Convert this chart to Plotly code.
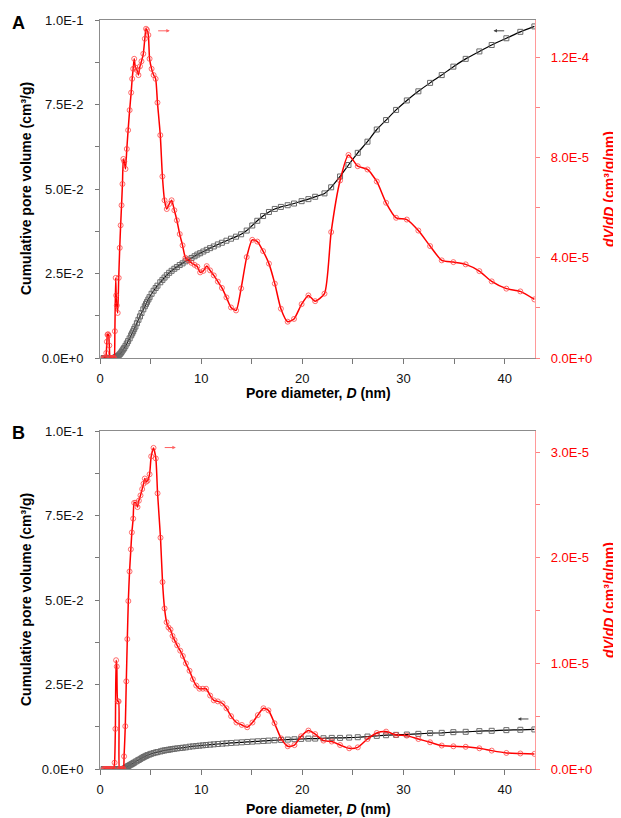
import plotly.graph_objects as go

# ---------------- Panel A data ----------------
diam_A = [0.35, 0.45, 0.55, 0.62, 0.68, 0.74, 0.8, 0.86, 0.92, 1.0, 1.08, 1.16, 1.24, 1.32, 1.4,
          1.47, 1.55, 1.6, 1.66, 1.75, 1.85, 1.95, 2.04, 2.13, 2.22, 2.31, 2.4, 2.52, 2.65, 2.78,
          2.93, 3.08, 3.18, 3.28, 3.38, 3.5, 3.65, 3.8, 3.95, 4.1, 4.28, 4.43, 4.55, 4.65, 4.78,
          4.9, 5.1, 5.3, 5.5, 5.68, 5.96, 6.17, 6.38, 6.6, 6.84, 7.08, 7.35, 7.6, 7.88, 8.16,
          8.45, 8.75, 9.05, 9.35, 9.62, 9.9, 10.22, 10.55, 10.88, 11.25, 11.65, 12.05, 12.5, 12.95,
          13.45, 13.95, 14.5, 15.05, 15.55, 16.12, 16.7, 17.28, 17.88, 18.55, 19.18, 19.93, 20.6,
          21.27, 22.19, 22.85, 23.73, 24.56, 25.48, 26.44, 27.36, 28.28, 29.27, 30.33, 31.47,
          32.63, 33.78, 34.93, 36.15, 37.5, 38.72, 40.17, 41.55, 42.94]
dvdd_A = [0, 0, 0, 2.0e-6, 6.5e-6, 9.3e-6, 9.5e-6, 9.0e-6, 5.0e-6, 0, 0, 0, 0, 0, 0,
          1.07e-5, 3.2e-5, 2.5e-5, 2.1e-5, 1.8e-5, 3.2e-5, 4.4e-5, 5.3e-5, 6.1e-5, 6.95e-5, 7.95e-5,
          7.85e-5, 7.55e-5, 8.35e-5, 9.1e-5, 9.9e-5, 1.06e-4, 1.115e-4, 1.155e-4, 1.195e-4, 1.16e-4,
          1.15e-4, 1.13e-4, 1.165e-4, 1.185e-4, 1.215e-4, 1.275e-4, 1.315e-4, 1.31e-4, 1.29e-4,
          1.195e-4, 1.155e-4, 1.13e-4, 1.115e-4, 1.02e-4, 8.9e-5, 7.25e-5, 6.3e-5, 5.95e-5, 6.15e-5,
          6.3e-5, 5.9e-5, 5.5e-5, 4.95e-5, 4.5e-5, 4.0e-5, 3.9e-5, 3.8e-5, 3.72e-5, 3.65e-5, 3.42e-5,
          3.48e-5, 3.67e-5, 3.5e-5, 3.3e-5, 3.05e-5, 2.8e-5, 2.42e-5, 2.02e-5, 1.9e-5, 2.78e-5,
          4.03e-5, 4.72e-5, 4.65e-5, 4.27e-5, 3.77e-5, 2.97e-5, 1.97e-5, 1.45e-5, 1.56e-5, 2.15e-5,
          2.5e-5, 2.27e-5, 2.57e-5, 5.03e-5, 7.09e-5, 8.11e-5, 7.66e-5, 7.53e-5, 7.05e-5, 6.2e-5,
          5.6e-5, 5.53e-5, 5.09e-5, 4.47e-5, 3.9e-5, 3.83e-5, 3.74e-5, 3.47e-5, 3.06e-5, 2.77e-5,
          2.66e-5, 2.34e-5]
cum_A = [0, 0, 0, 0, 0, 0, 0, 0, 0, 0, 0, 0, 0, 0, 0,
         0.0001, 0.0002, 0.0003, 0.0004, 0.0006, 0.0008, 0.0011, 0.0014, 0.0018, 0.0022, 0.0026,
         0.0030, 0.0036, 0.0043, 0.0050, 0.0058, 0.0067, 0.0073, 0.0079, 0.0086, 0.0093, 0.0103,
         0.0113, 0.0123, 0.0133, 0.0144, 0.0153, 0.0160, 0.0166, 0.0173, 0.0180, 0.0190, 0.0199,
         0.0207, 0.0214, 0.0224, 0.0231, 0.0238, 0.0245, 0.0252, 0.0258, 0.0264, 0.0269, 0.0275,
         0.0280, 0.0286, 0.0291, 0.0296, 0.0301, 0.0306, 0.0310, 0.0315, 0.0320, 0.0325, 0.0330,
         0.0336, 0.0341, 0.0347, 0.0353, 0.0359, 0.0366, 0.0377, 0.0392, 0.0406, 0.0420, 0.0432,
         0.0441, 0.0447, 0.0452, 0.0457, 0.0464, 0.0470, 0.0477, 0.0487, 0.0505, 0.0537, 0.0571,
         0.0607, 0.0640, 0.0676, 0.0704, 0.0734, 0.0762, 0.0789, 0.0814, 0.0837, 0.0862, 0.0885,
         0.0907, 0.0926, 0.0946, 0.0965, 0.0981]

# ---------------- Panel B data ----------------
diam_B = [0.35, 0.45, 0.55, 0.65, 0.75, 0.85, 0.95, 1.05, 1.15, 1.25, 1.35, 1.44, 1.52, 1.59,
          1.66, 1.76, 1.84, 1.92, 2.0, 2.08, 2.16, 2.24, 2.32, 2.38, 2.5, 2.6, 2.7, 2.8, 2.92,
          3.05, 3.15, 3.28, 3.38, 3.54, 3.71, 3.84, 4.0, 4.17, 4.3, 4.43, 4.57, 4.7, 4.9, 5.06,
          5.29, 5.52, 5.69, 5.98, 6.18, 6.38, 6.58, 6.77, 6.97, 7.17, 7.37, 7.63, 7.93, 8.19,
          8.49, 8.85, 9.18, 9.51, 9.83, 10.17, 10.49, 10.89, 11.25, 11.65, 12.11, 12.5, 12.96,
          13.49, 14.02, 14.55, 15.07, 15.6, 16.16, 16.65, 17.25, 17.9, 18.56, 19.22, 19.88, 20.6,
          21.27, 22.09, 22.91, 23.73, 24.63, 25.48, 26.44, 27.36, 28.28, 29.27, 30.33, 31.47,
          32.63, 33.78, 34.93, 36.15, 37.5, 38.72, 40.17, 41.55, 42.94]
dvdd_B = [0, 0, 0, 0, 0, 0, 0, 0, 0, 0, 0, 6e-7, 3.8e-6, 1.03e-5,
          9.7e-6, 6.4e-6, 6.4e-6, 0, 0, 0, 0, 0, 0, 1.2e-6, 4.05e-6, 8.3e-6, 1.23e-5, 1.59e-5,
          1.87e-5, 2.08e-5, 2.24e-5, 2.37e-5, 2.52e-5, 2.52e-5, 2.48e-5, 2.54e-5, 2.59e-5, 2.65e-5,
          2.7e-5, 2.75e-5, 2.72e-5, 2.73e-5, 2.79e-5, 2.96e-5, 3.04e-5, 2.94e-5, 2.61e-5, 2.19e-5,
          1.77e-5, 1.52e-5, 1.39e-5, 1.34e-5, 1.32e-5, 1.26e-5, 1.22e-5, 1.17e-5, 1.12e-5, 1.07e-5,
          1.0e-5, 9.3e-6, 8.5e-6, 7.9e-6, 7.6e-6, 7.6e-6, 7.6e-6, 6.95e-6, 6.5e-6, 6.4e-6, 6.2e-6,
          5.75e-6, 5.0e-6, 4.4e-6, 4.17e-6, 3.95e-6, 4.4e-6, 5.1e-6, 5.75e-6, 5.55e-6, 4.33e-6,
          2.9e-6, 2.15e-6, 2.26e-6, 3.1e-6, 3.64e-6, 3.3e-6, 2.69e-6, 2.6e-6, 2.27e-6, 1.96e-6,
          2.05e-6, 2.84e-6, 3.41e-6, 3.54e-6, 3.22e-6, 3.16e-6, 2.84e-6, 2.53e-6, 2.22e-6, 2.15e-6,
          2.1e-6, 1.96e-6, 1.74e-6, 1.52e-6, 1.47e-6, 1.43e-6]
cum_B = [0, 0, 0, 0, 0, 0, 0, 0, 0, 0, 0, 0, 0, 0,
         0, 0, 0, 0, 0, 0, 0, 0, 0, 0.0001, 0.0003, 0.0005, 0.0007, 0.0009, 0.0011,
         0.0013, 0.0015, 0.0017, 0.0019, 0.0022, 0.0025, 0.0027, 0.0030, 0.0033, 0.0035, 0.0037,
         0.0039, 0.0041, 0.0043, 0.0045, 0.0047, 0.0049, 0.0050, 0.0052, 0.0054, 0.0055, 0.0056,
         0.0057, 0.0058, 0.0059, 0.0060, 0.0061, 0.0062, 0.0063, 0.0064, 0.0066, 0.0067, 0.0068,
         0.0069, 0.0070, 0.0071, 0.0072, 0.0073, 0.0074, 0.0075, 0.0076, 0.0077, 0.0078, 0.0079,
         0.0080, 0.0081, 0.0082, 0.0083, 0.0084, 0.0085, 0.0086, 0.0087, 0.0088, 0.0089, 0.0090,
         0.0090, 0.0091, 0.0092, 0.0092, 0.0093, 0.0094, 0.0096, 0.0098, 0.0100, 0.0101, 0.0102,
         0.0104, 0.0106, 0.0107, 0.0109, 0.0110, 0.0112, 0.0113, 0.0115, 0.0116, 0.0117]

# ---------------- Tick labels ----------------
x_ticks = [0, 10, 20, 30, 40]
left_tickvals = [0, 0.025, 0.05, 0.075, 0.1]
left_ticktext = ["0.0E+0", "2.5E-2", "5.0E-2", "7.5E-2", "1.0E-1"]
rightA_tickvals = [0, 4e-5, 8e-5, 1.2e-4]
rightA_ticktext = ["0.0E+0", "4.0E-5", "8.0E-5", "1.2E-4"]
rightB_tickvals = [0, 1e-5, 2e-5, 3e-5]
rightB_ticktext = ["0.0E+0", "1.0E-5", "2.0E-5", "3.0E-5"]

# page body has an 8px margin: the figure div starts at (8, 8)
OFF = 8
W, H = 621 - OFF, 818 - OFF
FONT = "Liberation Sans, Arial, sans-serif"
RED = "#ff0000"
RED_MARK = "rgba(255,60,60,0.75)"
GRAY_MARK = "#6a6a6a"


def px(x):
    return (x - OFF) / W


def py(y):
    return 1 - (y - OFF) / H


fig = go.Figure()

spline = dict(shape="spline", smoothing=0.6)

# Panel A
fig.add_trace(go.Scatter(x=diam_A, y=cum_A, xaxis="x", yaxis="y", mode="lines+markers",
                         line=dict(color="#000000", width=1.2, **spline),
                         marker=dict(symbol="square-open", size=5, color=GRAY_MARK, line=dict(width=1))))
fig.add_trace(go.Scatter(x=diam_A, y=dvdd_A, xaxis="x", yaxis="y2", mode="lines+markers",
                         line=dict(color=RED, width=1.5, **spline),
                         marker=dict(symbol="circle-open", size=5, color=RED_MARK, line=dict(width=1))))
# Panel B
fig.add_trace(go.Scatter(x=diam_B, y=cum_B, xaxis="x2", yaxis="y3", mode="lines+markers",
                         line=dict(color="#000000", width=1.2, **spline),
                         marker=dict(symbol="square-open", size=5, color=GRAY_MARK, line=dict(width=1))))
fig.add_trace(go.Scatter(x=diam_B, y=dvdd_B, xaxis="x2", yaxis="y4", mode="lines+markers",
                         line=dict(color=RED, width=1.5, **spline),
                         marker=dict(symbol="circle-open", size=5, color=RED_MARK, line=dict(width=1))))

xdom = [px(100), px(535)]
domA = [py(358), py(20)]
domB = [py(769), py(431)]

tickfont = dict(family=FONT, size=13, color="#111111")
redfont = dict(family=FONT, size=13, color=RED)

common_x = dict(range=[0, 43], tickmode="array", tickvals=x_ticks, ticks="outside", ticklen=5,
                tickcolor="#777777", showline=True, linecolor="#8c8c8c", linewidth=1, mirror=True,
                showgrid=False, zeroline=False, tickfont=tickfont, ticklabelstandoff=3,
                minor=dict(ticks="outside", ticklen=5, dtick=5, tick0=0, tickcolor="#777777"),
                automargin=False, domain=xdom)
common_left = dict(range=[0, 0.1], tickmode="array", tickvals=left_tickvals, ticktext=left_ticktext,
                   ticks="outside", ticklen=4, tickcolor="#777777", showline=True, linecolor="#8c8c8c",
                   linewidth=1, showgrid=False, zeroline=False, tickfont=tickfont, ticklabelstandoff=9,
                   minor=dict(ticks="outside", ticklen=4, dtick=0.0125, tick0=0, tickcolor="#777777"),
                   automargin=False)
common_right = dict(side="right", ticks="outside", ticklen=4, tickcolor="#ff8080", showline=True,
                    linecolor="#ff9a9a", linewidth=1.3, showgrid=False, zeroline=False, tickfont=redfont,
                    ticklabelstandoff=8, tickmode="array", automargin=False)

fig.update_layout(
    width=W, height=H,
    margin=dict(l=0, r=0, t=0, b=0),
    paper_bgcolor="white", plot_bgcolor="white",
    showlegend=False,
    xaxis=dict(anchor="y", **common_x),
    xaxis2=dict(anchor="y3", **common_x),
    yaxis=dict(anchor="x", domain=domA, **common_left),
    yaxis2=dict(anchor="x", overlaying="y", range=[0, 1.35e-4], tickvals=rightA_tickvals,
                ticktext=rightA_ticktext,
                minor=dict(ticks="outside", ticklen=4, dtick=2e-5, tick0=0, tickcolor="#ff8080"),
                **common_right),
    yaxis3=dict(anchor="x2", domain=domB, **common_left),
    yaxis4=dict(anchor="x2", overlaying="y3", range=[0, 3.2e-5], tickvals=rightB_tickvals,
                ticktext=rightB_ticktext,
                minor=dict(ticks="outside", ticklen=4, dtick=5e-6, tick0=0, tickcolor="#ff8080"),
                **common_right),
)

titlefont = dict(family=FONT, size=14, color="#000000")
rtitlefont = dict(family=FONT, size=14, color=RED)
ctr = dict(xref="paper", yref="paper", showarrow=False, xanchor="center", yanchor="middle")
ann = []
for lab, ly, ycen, xt in [("A", 23, 189, 393), ("B", 433, 600, 809)]:
    ann.append(dict(text="<b>" + lab + "</b>", x=px(19), y=py(ly),
                    font=dict(family=FONT, size=18, color="#000000"), **ctr))
    ann.append(dict(text="<b>Cumulative pore volume (cm³/g)</b>", x=px(26), y=py(ycen),
                    textangle=-90, font=titlefont, **ctr))
    ann.append(dict(text="<b><i>dV</i>/<i>dD</i> (cm³/g/nm)</b>", x=px(609), y=py(ycen),
                    textangle=-90, font=rtitlefont, **ctr))
    ann.append(dict(text="<b>Pore diameter, <i>D</i> (nm)</b>", x=px(318), y=py(xt),
                    font=titlefont, **ctr))

# Series indicator arrows
arrow_style = dict(text="", showarrow=True, arrowhead=2, arrowsize=0.7, arrowwidth=1)
ann.append(dict(x=6.9, y=0.0968, ax=5.6, ay=0.0968, xref="x", yref="y", axref="x", ayref="y",
                arrowcolor="#ff6060", **arrow_style))
ann.append(dict(x=38.9, y=0.0968, ax=40.1, ay=0.0968, xref="x", yref="y", axref="x", ayref="y",
                arrowcolor="#444444", **arrow_style))
ann.append(dict(x=7.5, y=0.0951, ax=6.25, ay=0.0951, xref="x2", yref="y3", axref="x2", ayref="y3",
                arrowcolor="#ff6060", **arrow_style))
ann.append(dict(x=41.3, y=0.0148, ax=42.5, ay=0.0148, xref="x2", yref="y3", axref="x2", ayref="y3",
                arrowcolor="#444444", **arrow_style))

fig.update_layout(annotations=ann)

fig.write_html("out.html")
